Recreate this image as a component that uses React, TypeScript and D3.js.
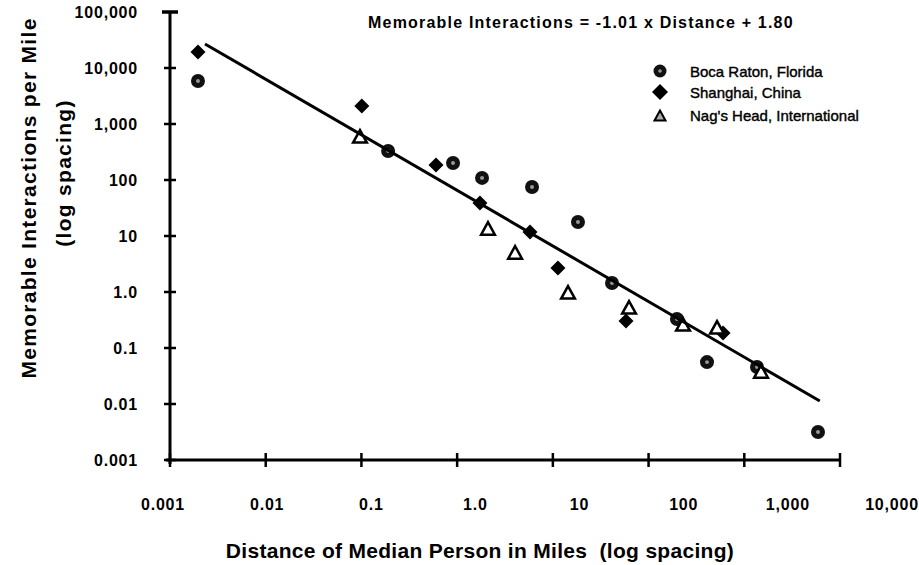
import React from "react";
import * as d3 from "d3";

const xTickValues = [0.001, 0.01, 0.1, 1, 10, 100, 1000, 10000];
const xTickLabels = ["0.001", "0.01", "0.1", "1.0", "10", "100", "1,000", "10,000"];
const yTickValues = [0.001, 0.01, 0.1, 1, 10, 100, 1000, 10000, 100000];
const yTickLabels = ["0.001", "0.01", "0.1", "1.0", "10", "100", "1,000", "10,000", "100,000"];

const bocaX = [0.00196, 0.19, 0.906, 1.82, 6.06, 18.3, 41.5, 198, 408, 1358, 5890];
const bocaY = [5860, 330, 201, 109, 75, 17.8, 1.45, 0.33, 0.056, 0.0458, 0.00316];

const shanghaiX = [0.00196, 0.101, 0.601, 1.73, 5.77, 11.3, 58.1, 600];
const shanghaiY = [19300, 2100, 185, 38.8, 11.8, 2.68, 0.303, 0.185];

const nagsX = [0.0966, 2.1, 4.03, 14.4, 62.5, 229, 519, 1496];
const nagsY = [586, 13.3, 4.97, 0.96, 0.518, 0.258, 0.228, 0.0372];

const fitX = [0.00232, 6150];
const fitY = [26900, 0.0113];

const legendLabels = ["Boca Raton, Florida", "Shanghai, China", "Nag's Head, International"];
const equationText = "Memorable Interactions = -1.01 x Distance + 1.80";
const xTitle = "Distance of Median Person in Miles  (log spacing)";
const yTitle1 = "Memorable Interactions per Mile";
const yTitle2 = "(log spacing)";

const W = 919;
const H = 565;
const FONT = "'Liberation Sans', Arial, Helvetica, sans-serif";

export default function App() {
  const x = d3.scaleLog().domain([0.001, 10000]).range([170, 840]);
  const y = d3.scaleLog().domain([0.001, 100000]).range([460, 12]);
  const xLabel = d3.scaleLog().domain([0.001, 10000]).range([163, 892]);

  const line = d3
    .line<[number, number]>()
    .x((d) => x(d[0]))
    .y((d) => y(d[1]));
  const fitPts: [number, number][] = fitX.map((v, i) => [v, fitY[i]]);

  const diamond = (cx: number, cy: number, r: number) =>
    `M${cx},${cy - r}L${cx + r},${cy}L${cx},${cy + r}L${cx - r},${cy}Z`;
  const tri = (cx: number, cy: number, s: number) =>
    `M${cx},${cy - s * 0.55}L${cx + s * 0.55},${cy + s * 0.45}L${cx - s * 0.55},${cy + s * 0.45}Z`;

  const circleMark = (cx: number, cy: number, r: number, key: string) => (
    <g key={key}>
      <circle cx={cx} cy={cy} r={r} fill="#111" />
      <circle cx={cx} cy={cy} r={r * 0.28} fill="#999" />
    </g>
  );

  const x0 = x(0.001);
  const x1 = x(10000);
  const y0 = y(0.001);
  const yTop = y(100000);

  return (
    <svg
      width={W}
      height={H}
      style={{ position: "absolute", left: 0, top: 0, background: "#fff" }}
      fontFamily={FONT}
    >
      <rect width={W} height={H} fill="#fff" />
      {/* axes */}
      <line x1={x0} y1={yTop} x2={x0} y2={y0 + 4} stroke="#000" strokeWidth={3} />
      <line x1={x0 - 4} y1={y0} x2={x1} y2={y0} stroke="#000" strokeWidth={3} />
      {yTickValues.map((v, i) => (
        <line
          key={"yt" + i}
          x1={x0 - (i === yTickValues.length - 1 ? 8 : 6)}
          x2={x0 + (i === yTickValues.length - 1 ? 8 : 6)}
          y1={y(v)}
          y2={y(v)}
          stroke="#000"
          strokeWidth={i === yTickValues.length - 1 ? 3.5 : 2.5}
        />
      ))}
      {xTickValues.map((v, i) => (
        <line
          key={"xt" + i}
          x1={x(v)}
          x2={x(v)}
          y1={y0 - 7}
          y2={y0 + 7}
          stroke="#000"
          strokeWidth={2.5}
        />
      ))}
      {yTickValues.map((v, i) => (
        <text
          key={"yl" + i}
          x={138}
          y={y(v)}
          textAnchor="end"
          dominantBaseline="central"
          fontSize={16}
          fontWeight="bold"
          letterSpacing={0.8}
          fill="#000"
        >
          {yTickLabels[i]}
        </text>
      ))}
      {xTickValues.map((v, i) => (
        <text
          key={"xl" + i}
          x={xLabel(v)}
          y={510}
          textAnchor="middle"
          fontSize={16}
          fontWeight="bold"
          letterSpacing={0.8}
          fill="#000"
        >
          {xTickLabels[i]}
        </text>
      ))}

      {/* markers */}
      {bocaX.map((v, i) => circleMark(x(v), y(bocaY[i]), 7, "b" + i))}
      {shanghaiX.map((v, i) => (
        <path key={"s" + i} d={diamond(x(v), y(shanghaiY[i]), 7.5)} fill="#000" />
      ))}
      {nagsX.map((v, i) => (
        <path
          key={"n" + i}
          d={tri(x(v), y(nagsY[i]), 12.5)}
          fill="#fff"
          stroke="#000"
          strokeWidth={2.5}
          strokeLinejoin="miter"
        />
      ))}

      {/* fit line */}
      <path d={line(fitPts) || ""} fill="none" stroke="#000" strokeWidth={3} />

      {/* equation */}
      <text x={368} y={28} fontSize={16} fontWeight="bold" letterSpacing={1.2} fill="#000">
        {equationText}
      </text>

      {/* legend */}
      {circleMark(660, 71, 6.5, "lg0")}
      <path d={diamond(660, 92, 8)} fill="#000" />
      <path d={tri(660, 116, 10)} fill="#aaa" stroke="#000" strokeWidth={2} />
      {legendLabels.map((t, i) => (
        <text
          key={"lt" + i}
          x={690}
          y={[71, 92, 115][i]}
          dominantBaseline="central"
          fontSize={15}
          stroke="#000"
          strokeWidth={0.4}
          fill="#000"
        >
          {t}
        </text>
      ))}

      {/* axis titles */}
      <text
        x={480}
        y={550}
        textAnchor="middle"
        dominantBaseline="central"
        fontSize={21}
        fontWeight="bold"
        letterSpacing={0.3}
        fill="#000"
        style={{ whiteSpace: "pre" }}
      >
        {xTitle}
      </text>
      <text
        transform="translate(28,198) rotate(-90)"
        textAnchor="middle"
        dominantBaseline="central"
        fontSize={21}
        fontWeight="bold"
        letterSpacing={1.3}
        fill="#000"
      >
        {yTitle1}
      </text>
      <text
        transform="translate(63,173) rotate(-90)"
        textAnchor="middle"
        dominantBaseline="central"
        fontSize={21}
        fontWeight="bold"
        letterSpacing={1.3}
        fill="#000"
      >
        {yTitle2}
      </text>
    </svg>
  );
}
